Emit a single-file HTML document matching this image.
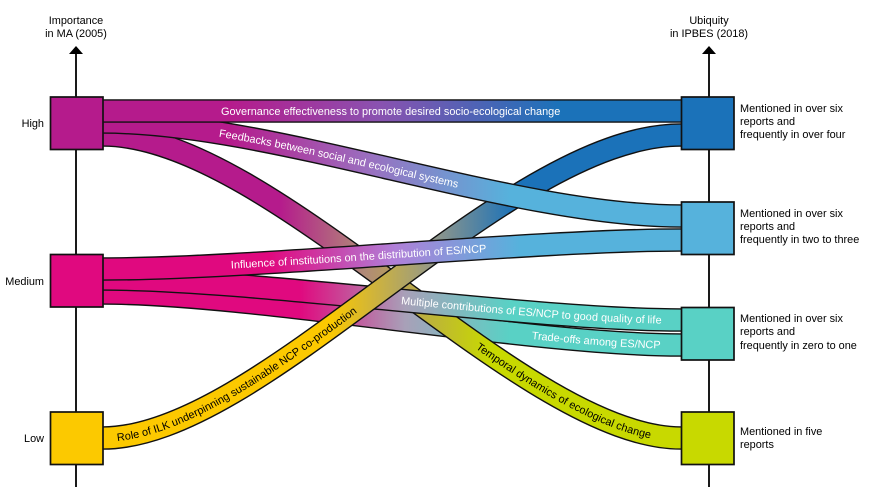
<!DOCTYPE html>
<html><head><meta charset="utf-8"><style>
html,body{margin:0;padding:0;background:#fff}
svg{display:block}
text{font-family:"Liberation Sans",Arial,sans-serif;font-size:10.9px}
.w{fill:#fff}.k{fill:#000}
.o{fill:none;stroke:#111;stroke-width:23.6}
.b{fill:none;stroke-width:20.8}
.box{stroke:#111;stroke-width:1.7}
</style></head><body>
<svg width="875" height="495" viewBox="0 0 875 495" xmlns="http://www.w3.org/2000/svg">
<defs>
<linearGradient id="g1" gradientUnits="userSpaceOnUse" x1="230" y1="0" x2="560" y2="0"><stop offset="0" stop-color="#B51B8C"/><stop offset=".45" stop-color="#8A52B0"/><stop offset="1" stop-color="#1B72B9"/></linearGradient>
<linearGradient id="g2" gradientUnits="userSpaceOnUse" x1="230" y1="0" x2="510" y2="0"><stop offset="0" stop-color="#B51B8C"/><stop offset=".5" stop-color="#9A70C0"/><stop offset="1" stop-color="#56B2DC"/></linearGradient>
<linearGradient id="g3" gradientUnits="userSpaceOnUse" x1="280" y1="0" x2="490" y2="0"><stop offset="0" stop-color="#B51B8C"/><stop offset=".4" stop-color="#B08A78"/><stop offset="1" stop-color="#C8D900"/></linearGradient>
<linearGradient id="g4" gradientUnits="userSpaceOnUse" x1="270" y1="0" x2="520" y2="0"><stop offset="0" stop-color="#E0097F"/><stop offset=".5" stop-color="#B080D8"/><stop offset="1" stop-color="#56B2DC"/></linearGradient>
<linearGradient id="g5" gradientUnits="userSpaceOnUse" x1="300" y1="0" x2="510" y2="0"><stop offset="0" stop-color="#E0097F"/><stop offset=".5" stop-color="#A8A0B8"/><stop offset="1" stop-color="#59D1C5"/></linearGradient>
<linearGradient id="g6" gradientUnits="userSpaceOnUse" x1="330" y1="0" x2="515" y2="0"><stop offset="0" stop-color="#FCC900"/><stop offset=".55" stop-color="#959888"/><stop offset="1" stop-color="#1B72B9"/></linearGradient>
<path id="pg" d="M103 111 L681 111"/>
<path id="pf" d="M103 122 C273 122 511 216 681 216"/>
<path id="pt" d="M103 135 C273 135 522 438 681 438"/>
<path id="pi" d="M103 269 C253 269 531 240 681 240"/>
<path id="pm" d="M103 279 C253 279 531 320 681 320"/>
<path id="pd" d="M103 293 C253 293 531 345 681 345"/>
<path id="pr" d="M103 438 C263 438 505 135 681 135"/>
</defs>
<rect width="875" height="495" fill="#fff"/>
<g stroke="#000" stroke-width="1.8"><line x1="76" y1="52" x2="76" y2="487"/><line x1="709" y1="52" x2="709" y2="487"/></g>
<path d="M69 54 L76 46 L83 54Z M702 54 L709 46 L716 54Z" fill="#000"/>

<use href="#pd" class="o"/><use href="#pd" class="b" stroke="url(#g5)"/>
<use href="#pt" class="o"/><use href="#pt" class="b" stroke="url(#g3)"/>
<use href="#pm" class="o"/><use href="#pm" class="b" stroke="url(#g5)"/>
<use href="#pr" class="o"/><use href="#pr" class="b" stroke="url(#g6)"/>
<use href="#pi" class="o"/><use href="#pi" class="b" stroke="url(#g4)"/>
<use href="#pf" class="o"/><use href="#pf" class="b" stroke="url(#g2)"/>
<use href="#pg" class="o"/><use href="#pg" class="b" stroke="url(#g1)"/>

<text class="w" dy="3.8"><textPath href="#pg" startOffset="118">Governance effectiveness to promote desired socio-ecological change</textPath></text>
<text class="w" dy="3.8"><textPath href="#pf" startOffset="117">Feedbacks between social and ecological systems</textPath></text>
<text class="k" dy="3.8"><textPath href="#pt" startOffset="435">Temporal dynamics of ecological change</textPath></text>
<text class="w" dy="3.8"><textPath href="#pi" startOffset="128">Influence of institutions on the distribution of ES/NCP</textPath></text>
<text class="w" dy="3.8"><textPath href="#pm" startOffset="299">Multiple contributions of ES/NCP to good quality of life</textPath></text>
<text class="w" dy="3.8"><textPath href="#pd" startOffset="431">Trade-offs among ES/NCP</textPath></text>
<text class="k" dy="3.8"><textPath href="#pr" startOffset="14">Role of ILK underpinning sustainable NCP co-production</textPath></text>

<rect class="box" x="50.5" y="97" width="52.5" height="52.5" fill="#B51B8C"/>
<rect class="box" x="50.5" y="254.5" width="52.5" height="52.5" fill="#E0097F"/>
<rect class="box" x="50.5" y="412" width="52.5" height="52.5" fill="#FCC900"/>
<rect class="box" x="681.5" y="97" width="52.5" height="52.5" fill="#1B72B9"/>
<rect class="box" x="681.5" y="202" width="52.5" height="52.5" fill="#56B2DC"/>
<rect class="box" x="681.5" y="307.5" width="52.5" height="52.5" fill="#59D1C5"/>
<rect class="box" x="681.5" y="412" width="52.5" height="52.5" fill="#C8D900"/>

<g class="k">
<text x="76" y="24" text-anchor="middle">Importance</text>
<text x="76" y="37" text-anchor="middle">in MA (2005)</text>
<text x="709" y="24" text-anchor="middle">Ubiquity</text>
<text x="709" y="37" text-anchor="middle">in IPBES (2018)</text>
<text x="44" y="127" text-anchor="end">High</text>
<text x="44" y="285" text-anchor="end">Medium</text>
<text x="44" y="442" text-anchor="end">Low</text>
<text x="740" y="112">Mentioned in over six</text>
<text x="740" y="125">reports and</text>
<text x="740" y="138">frequently in over four</text>
<text x="740" y="217">Mentioned in over six</text>
<text x="740" y="230">reports and</text>
<text x="740" y="243">frequently in two to three</text>
<text x="740" y="322">Mentioned in over six</text>
<text x="740" y="335">reports and</text>
<text x="740" y="349">frequently in zero to one</text>
<text x="740" y="435">Mentioned in five</text>
<text x="740" y="448">reports</text>
</g>
</svg>
</body></html>
